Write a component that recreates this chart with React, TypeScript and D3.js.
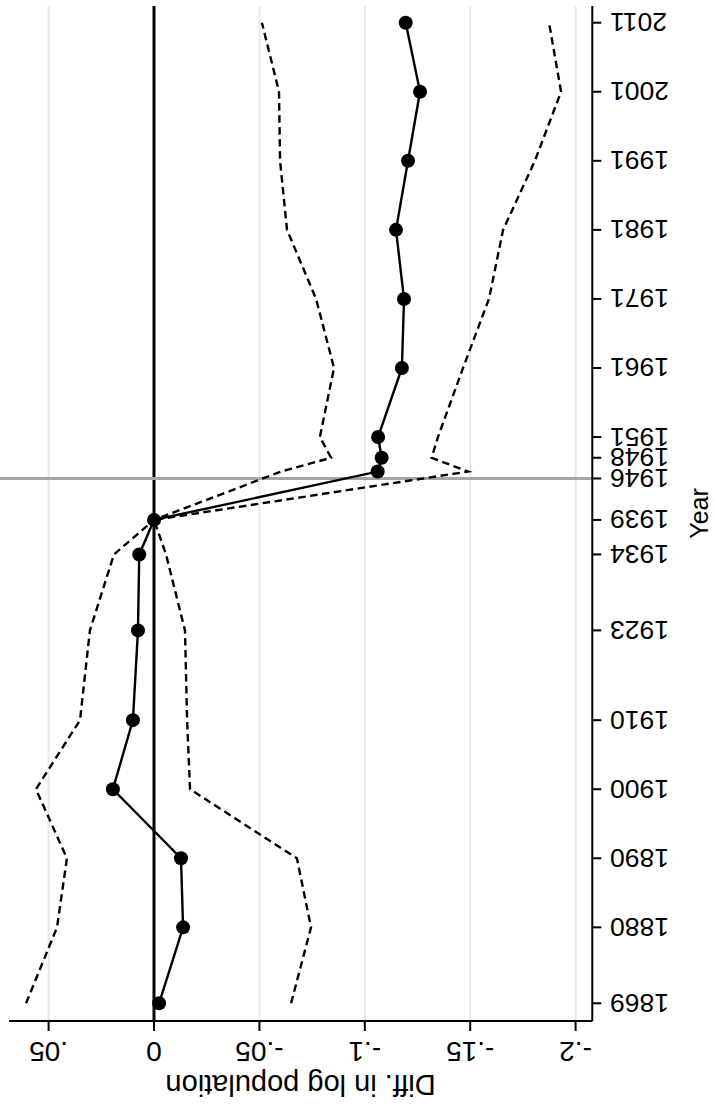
import React from "react";
import * as d3 from "d3";

// ---- data ----
const years = [1869, 1880, 1890, 1900, 1910, 1923, 1934, 1939, 1946, 1948, 1951, 1961, 1971, 1981, 1991, 2001, 2011];
const estimate = [-0.0024, -0.0138, -0.0128, 0.0195, 0.01, 0.0076, 0.007, 0, -0.1061, -0.108, -0.1063, -0.1176, -0.1186, -0.1148, -0.1205, -0.1262, -0.1194];
const upperCI = [0.0607, 0.046, 0.0413, 0.056, 0.0351, 0.0304, 0.019, 0, -0.0602, -0.084, -0.0787, -0.0854, -0.0769, -0.0631, -0.0598, -0.0593, -0.0512];
const lowerCI = [-0.065, -0.0745, -0.0678, -0.0171, -0.0157, -0.0147, -0.0057, 0, -0.149, -0.1317, -0.1347, -0.1466, -0.1589, -0.1656, -0.1807, -0.1931, -0.1874];

const xTicks = [0.05, 0, -0.05, -0.1, -0.15, -0.2];
const xTickLabels = [".05", "0", "-.05", "-.1", "-.15", "-.2"];
const yearTicks = [1869, 1880, 1890, 1900, 1910, 1923, 1934, 1939, 1945, 1948, 1951, 1961, 1971, 1981, 1991, 2001, 2011];
const yearTickLabels = ["1869", "1880", "1890", "1900", "1910", "1923", "1934", "1939", "1946", "1948", "1951", "1961", "1971", "1981", "1991", "2001", "2011"];
const refYear = 1945;
const xTitle = "Diff. in log population";
const yTitle = "Year";

const W = 714;
const H = 1109;
const plotLeft = 9;
const plotRight = 592.3;
const plotTop = 6;
const plotBottom = 1021;
const FONT = "'Liberation Sans', Arial, Helvetica, sans-serif";

export default function App() {
  const x = d3.scaleLinear().domain([0.05, -0.2]).range([48.6, 575.6]);
  const y = d3.scaleLinear().domain([1869, 2011]).range([1003.3, 22.7]);

  const pts = years.map((yr, i) => ({ yr, est: estimate[i], lo: lowerCI[i], hi: upperCI[i] }));
  const lineEst = d3.line<any>().x((d) => x(d.est)).y((d) => y(d.yr));
  const lineLo = d3.line<any>().x((d) => x(d.lo)).y((d) => y(d.yr));
  const lineHi = d3.line<any>().x((d) => x(d.hi)).y((d) => y(d.yr));

  return (
    <svg
      width={W}
      height={H}
      viewBox={`0 0 ${W} ${H}`}
      style={{ position: "absolute", left: 0, top: 0, display: "block", background: "#fff" }}
    >
      <rect x={0} y={0} width={W} height={H} fill="#fff" />
      {/* gridlines */}
      {xTicks.map((t, i) => (
        <line key={"g" + i} x1={x(t)} x2={x(t)} y1={plotTop} y2={plotBottom} stroke="#e8e8e8" strokeWidth={2} />
      ))}
      {/* zero line */}
      <line x1={x(0)} x2={x(0)} y1={plotTop} y2={plotBottom} stroke="#000" strokeWidth={3} />
      {/* reference year line */}
      <line x1={0} x2={plotRight} y1={y(refYear)} y2={y(refYear)} stroke="#a6a6a6" strokeWidth={3} />
      {/* CI lines */}
      <path d={lineHi(pts) || ""} fill="none" stroke="#000" strokeWidth={2.4} strokeDasharray="7.5,4.5" />
      <path d={lineLo(pts) || ""} fill="none" stroke="#000" strokeWidth={2.4} strokeDasharray="7.5,4.5" />
      {/* estimate */}
      <path d={lineEst(pts) || ""} fill="none" stroke="#000" strokeWidth={2.4} />
      {pts.map((d, i) => (
        <circle key={"c" + i} cx={x(d.est)} cy={y(d.yr)} r={7} fill="#000" />
      ))}
      {/* bottom axis */}
      <line x1={plotLeft} x2={plotRight} y1={plotBottom} y2={plotBottom} stroke="#000" strokeWidth={2} />
      {xTicks.map((t, i) => (
        <g key={"xt" + i}>
          <line x1={x(t)} x2={x(t)} y1={plotBottom} y2={plotBottom + 10} stroke="#000" strokeWidth={2} />
          <text
            transform={`translate(${x(t)},${plotBottom + 21}) rotate(180)`}
            textAnchor="middle"
            fontFamily={FONT}
            fontSize={28}
            fill="#000"
          >
            {xTickLabels[i]}
          </text>
        </g>
      ))}
      <text
        transform={`translate(${(plotLeft + plotRight) / 2},${1075}) rotate(180)`}
        textAnchor="middle"
        fontFamily={FONT}
        fontSize={29}
        fill="#000"
      >
        {xTitle}
      </text>
      {/* right axis */}
      <line x1={plotRight} x2={plotRight} y1={plotTop} y2={plotBottom} stroke="#000" strokeWidth={2} />
      {yearTicks.map((t, i) => (
        <g key={"yt" + i}>
          <line x1={plotRight} x2={plotRight + 9} y1={y(t)} y2={y(t)} stroke="#000" strokeWidth={2} />
          <text
            transform={`translate(${610},${y(t) - 9.5}) rotate(180)`}
            textAnchor="end"
            fontFamily={FONT}
            fontSize={26.5}
            fill="#000"
          >
            {yearTickLabels[i]}
          </text>
        </g>
      ))}
      <text
        transform={`translate(${708},${(plotTop + plotBottom) / 2}) rotate(-90)`}
        textAnchor="middle"
        fontFamily={FONT}
        fontSize={25}
        fill="#000"
      >
        {yTitle}
      </text>
    </svg>
  );
}
